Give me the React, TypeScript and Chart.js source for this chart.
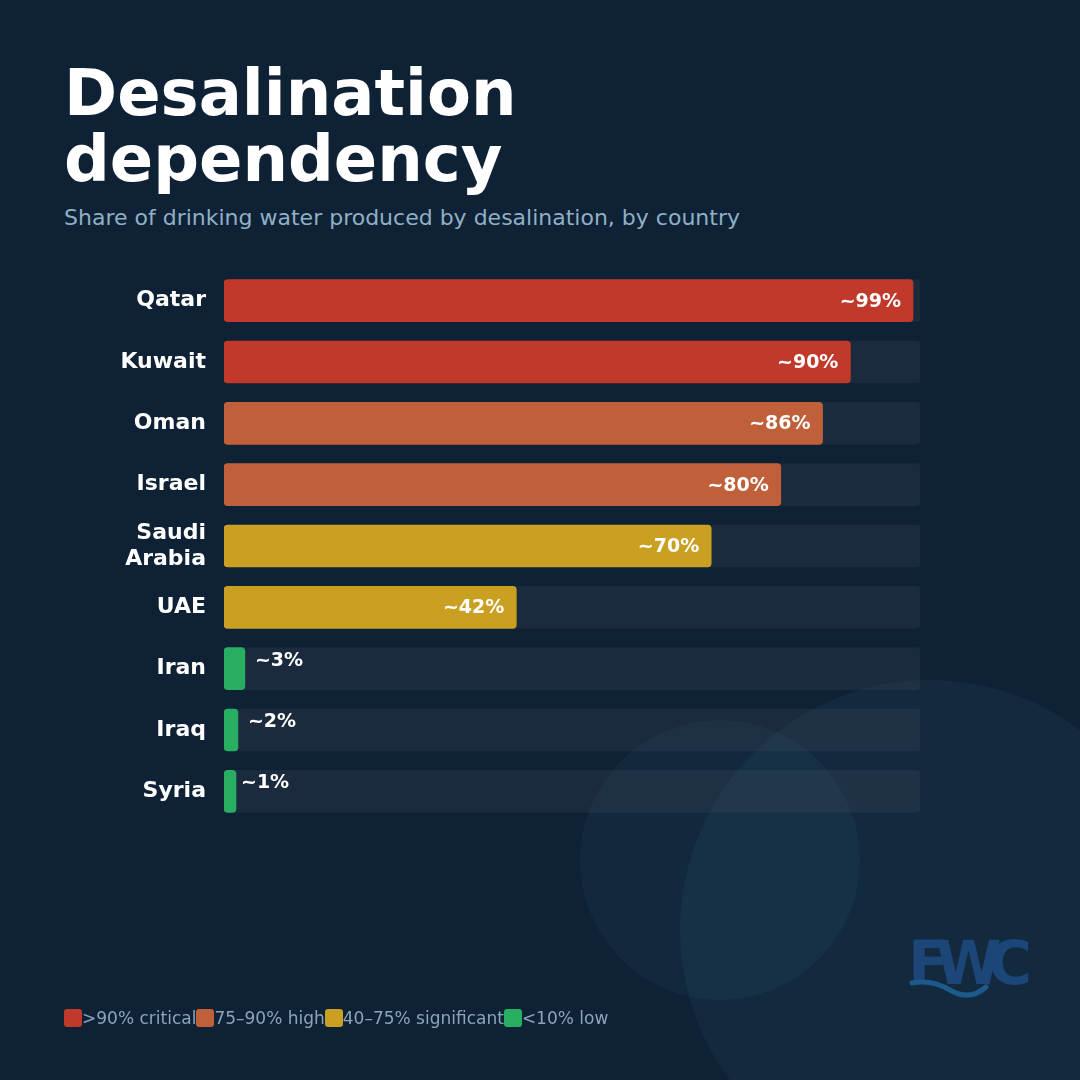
import React, { useEffect, useRef } from "react";
import { Chart, registerables } from "chart.js";

Chart.register(...registerables);

// Share of drinking water from desalination (%)
const countries: (string | string[])[] = [
  "Qatar",
  "Kuwait",
  "Oman",
  "Israel",
  ["Saudi", "Arabia"],
  "UAE",
  "Iran",
  "Iraq",
  "Syria",
];
const shares = [99, 90, 86, 80, 70, 42, 3, 2, 1];
const valueLabels = ["~99%", "~90%", "~86%", "~80%", "~70%", "~42%", "~3%", "~2%", "~1%"];

// Dependency tiers (lower bound, colour, legend text)
const tierFloors = [90, 75, 40, 0];
const tierColors = ["#c0392b", "#c0603b", "#c9a022", "#27ae60"];
const tierNames = [">90% critical", "75–90% high", "40–75% significant", "<10% low"];

const TRACK_MAX = 100;
const BG = "#0f2135";
const TRACK = "#1b2a3d";
const FONT = "'DejaVu Sans', sans-serif";

const tierColor = (v: number) => {
  const i = tierFloors.findIndex((f) => v >= f);
  return tierColors[i < 0 ? tierColors.length - 1 : i];
};

const valueLabelPlugin = {
  id: "valueLabels",
  afterDatasetsDraw(chart: any) {
    const meta = chart.getDatasetMeta(1);
    const xScale = chart.scales.x;
    const ctx = chart.ctx;
    ctx.save();
    ctx.font = `bold 19px ${FONT}`;
    ctx.fillStyle = "#ffffff";
    meta.data.forEach((bar: any, i: number) => {
      const v = shares[i];
      const label = valueLabels[i];
      ctx.textBaseline = "middle";
      if (v >= 10) {
        ctx.textAlign = "right";
        ctx.fillText(label, bar.x - 12, bar.y + 1);
      } else {
        ctx.textAlign = "left";
        ctx.fillText(label, xScale.getPixelForValue(v) + 10, bar.y - 8);
      }
    });
    ctx.restore();
  },
};

export default function App() {
  const canvasRef = useRef<HTMLCanvasElement | null>(null);

  useEffect(() => {
    document.body.style.margin = "0";
    Chart.defaults.font.family = FONT;
    const chart = new Chart(canvasRef.current as HTMLCanvasElement, {
      type: "bar",
      data: {
        labels: countries,
        datasets: [
          {
            label: "track",
            data: countries.map(() => TRACK_MAX),
            backgroundColor: TRACK,
            borderRadius: 4,
            borderSkipped: false,
            barThickness: 42,
            grouped: false,
            order: 2,
          } as any,
          {
            label: "share",
            data: shares,
            backgroundColor: shares.map(tierColor),
            borderRadius: 4,
            borderSkipped: false,
            barThickness: 42,
            minBarLength: 12,
            grouped: false,
            order: 1,
          } as any,
        ],
      },
      options: {
        indexAxis: "y",
        responsive: false,
        animation: false,
        devicePixelRatio: 1,
        layout: { padding: 0 },
        plugins: {
          legend: { display: false },
          tooltip: { enabled: false },
        },
        scales: {
          x: { display: false, min: 0, max: TRACK_MAX },
          y: {
            afterFit: (scale: any) => {
              scale.width = 160;
              scale.paddingTop = 0;
              scale.paddingBottom = 0;
            },
            grid: { display: false, drawTicks: false },
            border: { display: false },
            ticks: {
              color: "#ffffff",
              padding: 18,
              font: { family: FONT, size: 22, weight: "bold", lineHeight: 1.2 },
            },
          },
        },
      },
      plugins: [valueLabelPlugin],
    });
    return () => chart.destroy();
  }, []);

  return (
    <div
      style={{
        position: "absolute",
        left: 0,
        top: 0,
        width: 1080,
        height: 1080,
        background: BG,
        overflow: "hidden",
        fontFamily: FONT,
      }}
    >
      <div
        style={{
          position: "absolute",
          left: 64,
          top: 60,
          color: "#ffffff",
          fontWeight: "bold",
          fontSize: 64,
          lineHeight: "66px",
        }}
      >
        Desalination
        <br />
        dependency
      </div>
      <div
        style={{
          position: "absolute",
          left: 64,
          top: 204,
          color: "#8fb0c6",
          fontSize: 22,
          lineHeight: "28px",
          whiteSpace: "nowrap",
        }}
      >
        Share of drinking water produced by desalination, by country
      </div>

      <canvas
        ref={canvasRef}
        width={856}
        height={552}
        style={{ position: "absolute", left: 64, top: 270, width: 856, height: 552 }}
      />

      {/* soft decorative discs */}
      <div
        style={{
          position: "absolute",
          left: 580,
          top: 720,
          width: 280,
          height: 280,
          borderRadius: "50%",
          background: "rgba(77,145,165,0.07)",
          pointerEvents: "none",
        }}
      />
      <div
        style={{
          position: "absolute",
          left: 680,
          top: 680,
          width: 500,
          height: 500,
          borderRadius: "50%",
          background: "rgba(77,145,165,0.08)",
          pointerEvents: "none",
        }}
      />

      {/* brand mark */}
      <svg
        width={150}
        height={90}
        style={{ position: "absolute", left: 900, top: 925 }}
      >
        <text
          x={8}
          y={59}
          fill="#1b4677"
          fontFamily={FONT}
          fontWeight="bold"
          fontSize={60}
          textLength={124}
          lengthAdjust="spacing"
        >
          FWC
        </text>
        <path
          d="M12 58 Q 32 54 52 66 Q 70 76 86 62"
          stroke="#1d5a8c"
          strokeWidth={5}
          fill="none"
          strokeLinecap="round"
        />
      </svg>

      {/* tier legend */}
      <div
        style={{
          position: "absolute",
          left: 64,
          top: 1006,
          display: "flex",
          alignItems: "center",
          height: 24,
        }}
      >
        {tierNames.map((name, i) => (
          <div key={name} style={{ display: "flex", alignItems: "center" }}>
            <span
              style={{
                display: "inline-block",
                width: 18,
                height: 18,
                borderRadius: 3,
                background: tierColors[i],
              }}
            />
            <span style={{ color: "#8aa5ba", fontSize: 17, whiteSpace: "nowrap" }}>{name}</span>
          </div>
        ))}
      </div>
    </div>
  );
}
